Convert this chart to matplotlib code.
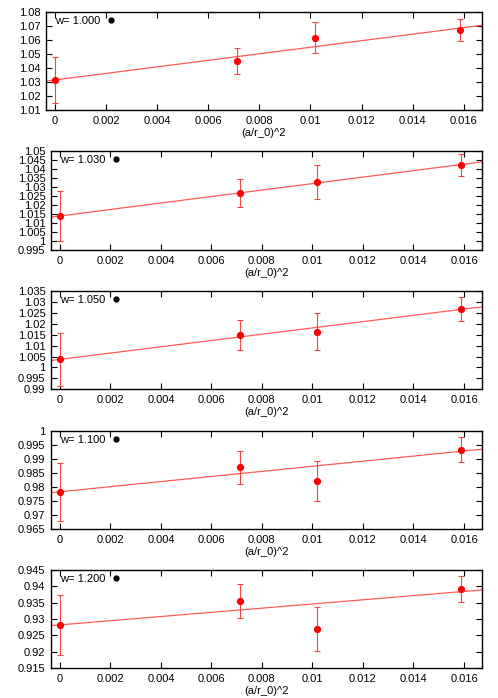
import matplotlib
matplotlib.use("Agg")
import matplotlib.pyplot as plt
from matplotlib.lines import Line2D
from matplotlib.ticker import MultipleLocator, FormatStrFormatter
import numpy as np

plt.rcParams['font.family'] = ['Liberation Sans', 'DejaVu Sans']
plt.rcParams['font.size'] = 8

# x values: (a/r_0)^2
x_vals = [0.0, 0.00714, 0.01018, 0.01587]

labels = ["w= 1.000", "w= 1.030", "w= 1.050", "w= 1.100", "w= 1.200"]

y_w1000 = [1.0314, 1.0449, 1.0615, 1.0670]
e_w1000 = [0.0166, 0.0090, 0.0111, 0.0080]
y_w1030 = [1.0139, 1.0265, 1.0326, 1.0423]
e_w1030 = [0.0140, 0.0078, 0.0095, 0.0063]
y_w1050 = [1.0037, 1.0149, 1.0164, 1.0268]
e_w1050 = [0.0120, 0.0067, 0.0083, 0.0054]
y_w1100 = [0.9782, 0.9870, 0.9821, 0.9933]
e_w1100 = [0.0104, 0.0060, 0.0072, 0.0044]
y_w1200 = [0.9282, 0.9356, 0.9270, 0.9391]
e_w1200 = [0.0093, 0.0052, 0.0068, 0.0040]

# linear fit: intercept, slope
fit_intercept = [1.0314, 1.0139, 1.0037, 0.9783, 0.9282]
fit_slope = [2.33, 1.80, 1.44, 0.91, 0.64]

ylims = [(1.01, 1.08), (0.995, 1.05), (0.99, 1.035), (0.965, 1.0), (0.915, 0.945)]
ysteps = [0.01, 0.005, 0.005, 0.005, 0.005]
xlim = (-0.00035, 0.0167)

ys = [y_w1000, y_w1030, y_w1050, y_w1100, y_w1200]
es = [e_w1000, e_w1030, e_w1050, e_w1100, e_w1200]

W, H = 498, 698
fig = plt.figure(figsize=(W / 100, H / 100), dpi=100)

# axes boxes in pixels: left, right, top, bottom
boxes = [(46, 481.7, 11.7, 110), (51, 481.7, 151, 250), (51, 481.7, 291, 389.3),
         (51, 481.7, 431, 529), (51, 481.7, 570, 668)]

for i in range(5):
    l, r, t, b = boxes[i]
    ax = fig.add_axes([l / W, 1 - b / H, (r - l) / W, (b - t) / H])
    ax.set_xlim(*xlim)
    ax.set_ylim(*ylims[i])
    xx = np.array(xlim)
    ax.plot(xx, fit_intercept[i] + fit_slope[i] * xx, color='#ff5a5a', lw=0.9, zorder=2)
    ax.errorbar(x_vals, ys[i], yerr=es[i], fmt='none', ecolor='#f04848', elinewidth=0.8,
                capsize=1.9, capthick=0.8, zorder=3)
    ax.plot(x_vals, ys[i], 'o', color='red', markersize=4.2, zorder=4)
    ax.xaxis.set_major_locator(MultipleLocator(0.002))
    ax.xaxis.set_major_formatter(FormatStrFormatter('%g'))
    ax.yaxis.set_major_locator(MultipleLocator(ysteps[i]))
    ax.yaxis.set_major_formatter(FormatStrFormatter('%g'))
    ax.tick_params(direction='in', top=True, right=True, length=4, width=0.8,
                   labelsize=8, pad=4)
    for s in ax.spines.values():
        s.set_linewidth(1.0)
    ax.set_xlabel('(a/r_0)^2', fontsize=8, labelpad=1.5)
    h = Line2D([], [], marker='o', color='black', linestyle='none', markersize=3.5)
    ax.legend([h], [labels[i]], loc='upper left', bbox_to_anchor=(0.02, 0.96),
              frameon=False, markerfirst=False, borderpad=0, borderaxespad=0,
              handlelength=1.0, handletextpad=0.5, fontsize=8)

fig.savefig('out.png', dpi=100)
